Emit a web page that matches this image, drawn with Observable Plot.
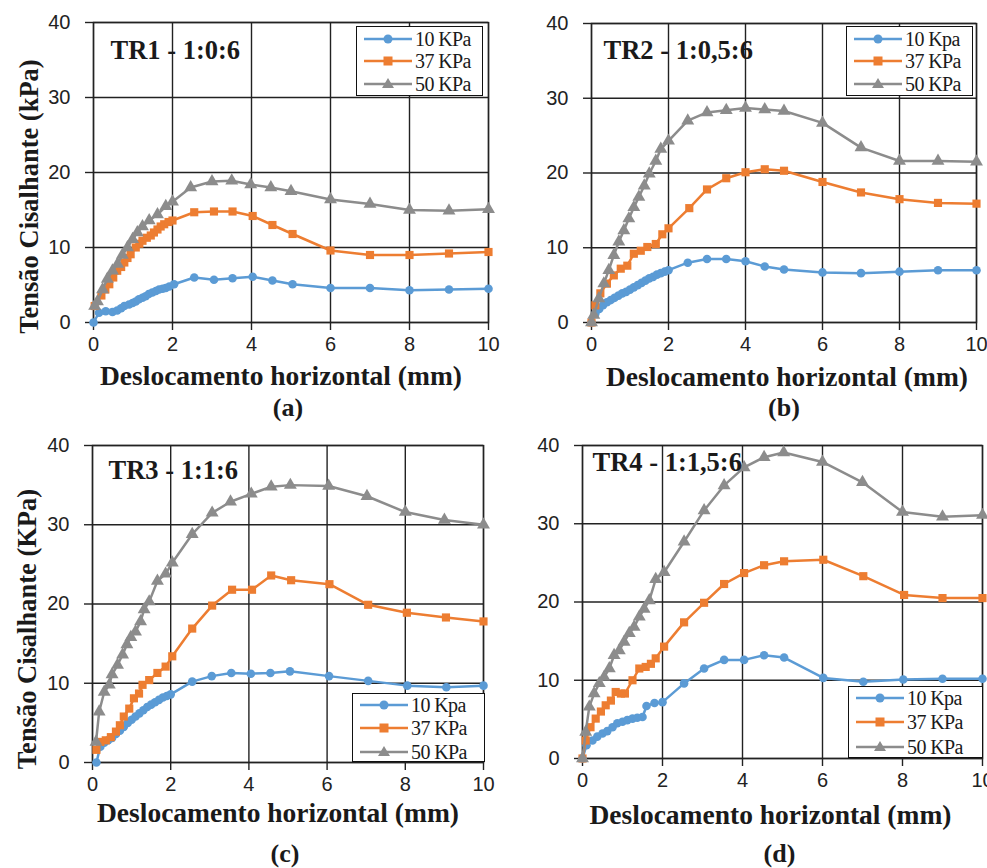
<!DOCTYPE html>
<html>
<head>
<meta charset="utf-8">
<script src="https://cdn.jsdelivr.net/npm/d3@7"></script>
<script src="https://cdn.jsdelivr.net/npm/@observablehq/plot@0.6"></script>
<style>
  body { margin: 0; background: #fff; }
  #wrap { position: relative; width: 987px; height: 868px; overflow: hidden; background: #fff;
          font-family: "Liberation Serif", "DejaVu Serif", "Times New Roman", serif; color: #1a1a1a; }
  .panel { position: absolute; }
  .legend { position: absolute; background: #fff; border: 1.5px solid #111; box-sizing: border-box; }
  .lrow { position: absolute; left: 5px; height: 22px; display: flex; align-items: center; white-space: nowrap; }
  .lrow span { font-size: 20px; letter-spacing: -0.6px; line-height: 22px; margin-left: 1px; }
</style>
</head>
<body>
<div id="wrap"></div>
<script>
// ---------------- data ----------------
const xTicks = [0, 2, 4, 6, 8, 10];
const yTicks = [0, 10, 20, 30, 40];

// TR1 - 1:0:6
const tr1_10_x = [0,0.14,0.31,0.48,0.6,0.7,0.78,0.9,0.99,1.07,1.15,1.24,1.32,1.4,1.49,1.58,1.66,1.75,1.83,1.92,2.04,2.55,3.05,3.52,4.03,4.53,5.04,6,7,8,9,10];
const tr1_10_y = [0,1.3,1.5,1.4,1.6,1.9,2.2,2.4,2.6,2.8,3.1,3.3,3.5,3.8,4.0,4.2,4.4,4.5,4.6,4.8,5.1,6.0,5.7,5.9,6.1,5.6,5.1,4.6,4.6,4.3,4.4,4.5];
const tr1_37_x = [0.03,0.2,0.3,0.4,0.5,0.6,0.7,0.78,0.86,0.94,1.07,1.16,1.24,1.35,1.45,1.53,1.62,1.7,1.79,1.9,2.0,2.55,3.05,3.52,4.03,4.53,5.04,6,7,8,9,10];
const tr1_37_y = [2.2,3.6,4.4,5.1,6.0,6.9,7.4,8.0,8.6,9.1,10.0,10.5,10.9,11.3,11.6,12.0,12.4,12.8,13.1,13.4,13.6,14.7,14.8,14.8,14.2,13.0,11.8,9.6,9.0,9.0,9.2,9.4];
const tr1_50_x = [0.03,0.1,0.23,0.35,0.48,0.61,0.73,0.86,0.99,1.11,1.24,1.41,1.62,1.83,2.0,2.46,3.0,3.5,3.98,4.49,5.0,6,7,8,9,10];
const tr1_50_y = [2.2,2.8,4.4,5.8,6.9,7.8,9.0,10.0,11.1,12.0,12.8,13.6,14.4,15.5,16.1,18.0,18.8,18.9,18.4,18.0,17.5,16.4,15.8,15.0,14.9,15.1];

// TR2 - 1:0,5:6
const tr2_10_x = [0,0.1,0.2,0.3,0.4,0.5,0.6,0.7,0.8,0.9,1.0,1.1,1.2,1.3,1.4,1.5,1.6,1.7,1.8,1.9,2.0,2.5,3,3.5,4,4.5,5,6,7,8,9,10];
const tr2_10_y = [0,1.2,1.8,2.3,2.7,3.0,3.3,3.6,3.9,4.1,4.4,4.7,5.0,5.3,5.6,5.9,6.1,6.4,6.6,6.8,7.0,8.0,8.5,8.5,8.2,7.5,7.1,6.7,6.6,6.8,7.0,7.0];
const tr2_37_x = [0,0.1,0.23,0.4,0.58,0.76,0.93,1.1,1.28,1.45,1.67,1.84,2.0,2.54,3.0,3.5,4.0,4.5,5.0,6,7,8,9,10];
const tr2_37_y = [0,2.3,3.9,5.2,6.3,7.2,7.6,9.2,9.6,10.1,10.5,11.8,12.6,15.3,17.8,19.3,20.1,20.5,20.3,18.8,17.4,16.5,16.0,15.9];
const tr2_50_x = [0,0.06,0.19,0.32,0.45,0.58,0.71,0.84,0.97,1.1,1.23,1.37,1.5,1.67,1.8,2.0,2.5,3,3.5,4,4.5,5,6,7,8,9,10];
const tr2_50_y = [0,1.0,3.2,5.2,7.0,9.0,10.8,12.3,13.9,15.4,16.8,18.3,19.9,21.6,23.2,24.3,27.0,28.1,28.4,28.7,28.5,28.3,26.7,23.4,21.6,21.6,21.5];

// TR3 - 1:1:6
const tr3_10_x = [0.1,0.2,0.3,0.4,0.5,0.6,0.7,0.8,0.9,1.0,1.1,1.2,1.3,1.4,1.5,1.6,1.7,1.8,1.9,2.0,2.55,3.05,3.55,4.05,4.55,5.05,6.05,7.05,8.05,9.05,10];
const tr3_10_y = [0,2.0,2.5,2.8,3.1,3.6,4.0,4.5,5.0,5.4,5.8,6.2,6.6,7.0,7.3,7.6,7.9,8.2,8.4,8.6,10.2,10.9,11.3,11.2,11.3,11.5,10.9,10.3,9.7,9.5,9.7];
const tr3_37_x = [0.1,0.2,0.34,0.47,0.6,0.7,0.8,0.94,1.06,1.19,1.28,1.45,1.66,1.87,2.04,2.55,3.06,3.57,4.08,4.57,5.08,6.06,7.05,8.04,9.04,10];
const tr3_37_y = [1.6,2.6,2.8,3.2,3.9,4.7,5.8,6.8,8.1,8.7,9.8,10.4,11.3,12.1,13.4,16.9,19.8,21.8,21.8,23.6,23.0,22.5,19.9,18.9,18.3,17.8];
const tr3_50_x = [0.09,0.17,0.3,0.43,0.5,0.64,0.77,0.88,0.98,1.1,1.23,1.32,1.45,1.66,1.87,2.04,2.55,3.06,3.53,4.06,4.57,5.06,6.04,7.02,8.0,9.0,10];
const tr3_50_y = [2.6,6.4,8.9,9.8,11.1,12.3,13.6,14.9,15.8,16.5,17.8,19.3,20.3,22.9,23.8,25.2,28.8,31.5,32.9,33.9,34.8,35.0,34.9,33.6,31.6,30.6,30.0];

// TR4 - 1:1,5:6
const tr4_10_x = [0,0.1,0.25,0.37,0.5,0.62,0.75,0.87,1.0,1.12,1.25,1.37,1.5,1.6,1.8,2.0,2.54,3.04,3.54,4.04,4.54,5.04,6.02,7.02,8.02,9.0,10];
const tr4_10_y = [0,1.7,2.3,2.8,3.2,3.5,4.0,4.5,4.7,4.9,5.1,5.2,5.3,6.7,7.1,7.2,9.6,11.5,12.6,12.6,13.2,12.9,10.3,9.8,10.1,10.2,10.2];
const tr4_37_x = [0,0.08,0.2,0.33,0.46,0.58,0.71,0.83,0.96,1.06,1.25,1.42,1.58,1.71,1.83,2.04,2.54,3.04,3.54,4.04,4.54,5.04,6.02,7.02,8.04,9.0,10];
const tr4_37_y = [0,2.3,4.0,5.1,6.0,6.8,7.4,8.5,8.3,8.3,10.0,11.5,11.7,12.1,12.8,14.3,17.4,19.9,22.3,23.7,24.7,25.2,25.4,23.3,20.9,20.5,20.5];
const tr4_50_x = [0,0.08,0.17,0.29,0.42,0.54,0.67,0.79,0.92,1.04,1.17,1.29,1.42,1.54,1.67,1.83,2.04,2.54,3.04,3.54,4.04,4.54,5.03,6.0,7.0,8.0,9.0,10];
const tr4_50_y = [0,3.4,6.6,8.3,9.6,10.4,11.5,13.2,13.8,14.9,16.0,16.8,18.1,19.1,20.2,22.9,23.8,27.7,31.7,34.9,37.2,38.5,39.1,37.9,35.3,31.5,30.9,31.1];

const panelTitles = ["TR1 - 1:0:6", "TR2 - 1:0,5:6", "TR3 - 1:1:6", "TR4 - 1:1,5:6"];
const captions = ["(a)", "(b)", "(c)", "(d)"];
const legendLabels = [
  ["10 KPa", "37 KPa", "50 KPa"],
  ["10 Kpa", "37 KPa", "50 KPa"],
  ["10 Kpa", "37 KPa", "50 KPa"],
  ["10 Kpa", "37 KPa", "50 KPa"]
];
const yLabels = ["Tensão Cisalhante (kPa)", null, "Tensão Cisalhante (KPa)", null];
const xLabel = "Deslocamento horizontal (mm)";

// ---------------- styling ----------------
const colors = ["#5b9bd5", "#ed7d31", "#8c8c8c"];
const symbols = ["circle", "square", "triangle"];
const symR = [4.3, 4.6, 4.8];
const serif = "Liberation Serif, DejaVu Serif, Times New Roman, serif";
const sans = "Liberation Sans, Arial, sans-serif";

const panelData = [
  [[tr1_10_x, tr1_10_y], [tr1_37_x, tr1_37_y], [tr1_50_x, tr1_50_y]],
  [[tr2_10_x, tr2_10_y], [tr2_37_x, tr2_37_y], [tr2_50_x, tr2_50_y]],
  [[tr3_10_x, tr3_10_y], [tr3_37_x, tr3_37_y], [tr3_50_x, tr3_50_y]],
  [[tr4_10_x, tr4_10_y], [tr4_37_x, tr4_37_y], [tr4_50_x, tr4_50_y]]
];

const layout = [
  {left: 0,   top: 0,   width: 493, height: 420, ml: 93, mr: 5,  mt: 22, mb: 98,
   tdx: 17, tdy: 28, xdx: -10, xdy: 54, cdx: -3, cdy: 85, ydx: -64, ydy: 24,
   lg: {left: 356, top: 26, w: 127, h: 70, r0: 13, dr: 22.6}},
  {left: 493, top: 0,   width: 494, height: 420, ml: 98, mr: 11, mt: 23, mb: 98,
   tdx: 12, tdy: 27, xdx: 3, xdy: 55, cdx: 0, cdy: 85, ydx: 0, ydy: 0,
   lg: {left: 846, top: 26, w: 127, h: 70, r0: 13, dr: 22.6}},
  {left: 0,   top: 420, width: 493, height: 448, ml: 92, mr: 10, mt: 25, mb: 106,
   tdx: 16, tdy: 25, xdx: -10, xdy: 51, cdx: -3, cdy: 91, ydx: -65, ydy: 25,
   lg: {left: 352, top: 693, w: 133, h: 69, r0: 12, dr: 23.5}},
  {left: 493, top: 420, width: 494, height: 448, ml: 89, mr: 5, mt: 25, mb: 110,
   tdx: 10, tdy: 17, xdx: -12, xdy: 57, cdx: -3, cdy: 95, ydx: 0, ydy: 0,
   lg: {left: 848, top: 686, w: 135, h: 72, r0: 12, dr: 24.5}}
];

const wrap = document.getElementById("wrap");

function markerSVG(i, cx, cy) {
  const c = colors[i];
  if (symbols[i] === "circle") return `<circle cx="${cx}" cy="${cy}" r="4.5" fill="${c}"/>`;
  if (symbols[i] === "square") return `<rect x="${cx-4.5}" y="${cy-4.5}" width="9" height="9" fill="${c}"/>`;
  return `<polygon points="${cx},${cy-6} ${cx+6},${cy+4} ${cx-6},${cy+4}" fill="${c}"/>`;
}

const titleStyle = {fontWeight: "bold", fontFamily: serif, fill: "#1a1a1a", lineAnchor: "middle"};

layout.forEach((L, p) => {
  const marks = [
    Plot.gridX(xTicks, {stroke: "#222", strokeOpacity: 1, strokeWidth: 1.4}),
    Plot.gridY(yTicks, {stroke: "#222", strokeOpacity: 1, strokeWidth: 1.4}),
    Plot.frame({stroke: "#222", strokeWidth: 1.4}),
    Plot.axisX(xTicks, {tickSize: 8, tickPadding: 6, fontSize: 20, fontFamily: sans, strokeWidth: 1.4, label: null}),
    Plot.axisY(yTicks, {tickSize: 8, tickPadding: 15, fontSize: 20, fontFamily: sans, strokeWidth: 1.4, label: null})
  ];
  panelData[p].forEach(([xs, ys], s) => {
    const rows = xs.map((x, k) => ({x, y: ys[k]}));
    marks.push(Plot.line(rows, {x: "x", y: "y", stroke: colors[s], strokeWidth: 2.5}));
    marks.push(Plot.dot(rows, {x: "x", y: "y", symbol: symbols[s], r: symR[s], fill: colors[s], stroke: "none"}));
  });
  marks.push(Plot.text([panelTitles[p]], {...titleStyle, frameAnchor: "top-left", textAnchor: "start",
    dx: L.tdx, dy: L.tdy, fontSize: 26.5}));
  marks.push(Plot.text([xLabel], {...titleStyle, frameAnchor: "bottom", textAnchor: "middle",
    dx: L.xdx, dy: L.xdy, fontSize: 27.5}));
  marks.push(Plot.text([captions[p]], {...titleStyle, frameAnchor: "bottom", textAnchor: "middle",
    dx: L.cdx, dy: L.cdy, fontSize: 26}));
  if (yLabels[p]) {
    marks.push(Plot.text([yLabels[p]], {...titleStyle, frameAnchor: "left", textAnchor: "middle", rotate: -90,
      dx: L.ydx, dy: L.ydy, fontSize: 26.5}));
  }
  const chart = Plot.plot({
    width: L.width, height: L.height,
    marginLeft: L.ml, marginRight: L.mr, marginTop: L.mt, marginBottom: L.mb,
    x: {domain: [0, 10], label: null},
    y: {domain: [0, 40], label: null},
    style: {fontFamily: serif, color: "#222", background: "transparent", overflow: "visible"},
    marks
  });
  const div = document.createElement("div");
  div.className = "panel";
  div.style.left = L.left + "px";
  div.style.top = L.top + "px";
  div.appendChild(chart);
  wrap.appendChild(div);

  const g = L.lg;
  const lg = document.createElement("div");
  lg.className = "legend";
  Object.assign(lg.style, {left: g.left + "px", top: g.top + "px", width: g.w + "px", height: g.h + "px"});
  legendLabels[p].forEach((lab, i) => {
    const row = document.createElement("div");
    row.className = "lrow";
    row.style.top = (g.r0 + i * g.dr - 11 - 1.5) + "px";
    row.innerHTML = `<svg width="52" height="22"><line x1="2" x2="50" y1="11" y2="11" stroke="${colors[i]}" stroke-width="2.5"/>${markerSVG(i, 26, 11)}</svg><span>${lab}</span>`;
    lg.appendChild(row);
  });
  wrap.appendChild(lg);
});
</script>
</body>
</html>
